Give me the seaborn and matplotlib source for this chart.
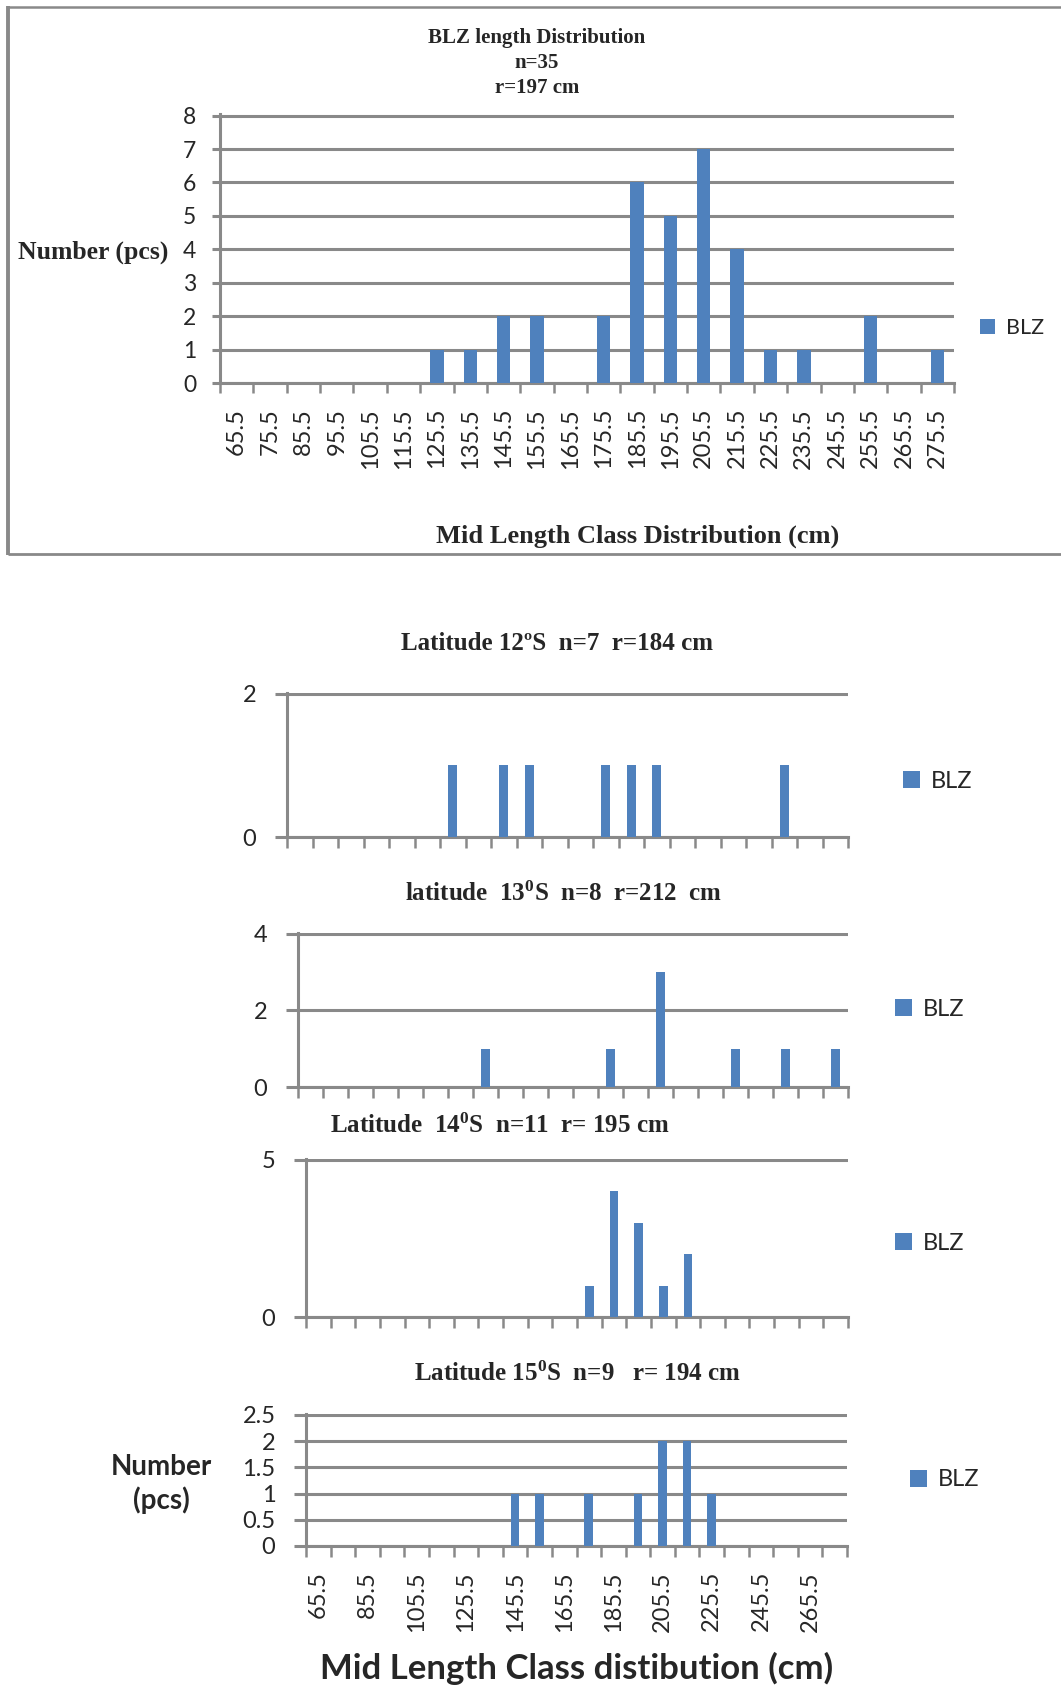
import numpy as np
import pandas as pd
import matplotlib
matplotlib.use("Agg")
import matplotlib.pyplot as plt
from matplotlib.lines import Line2D
from matplotlib.patches import Patch
import seaborn as sns

# Mid-length classes (cm) and BLZ counts per class
mid_length = ["65.5", "75.5", "85.5", "95.5", "105.5", "115.5", "125.5", "135.5",
              "145.5", "155.5", "165.5", "175.5", "185.5", "195.5", "205.5", "215.5",
              "225.5", "235.5", "245.5", "255.5", "265.5", "275.5"]
blz_all = [0, 0, 0, 0, 0, 0, 1, 1, 2, 2, 0, 2, 6, 5, 7, 4, 1, 1, 0, 2, 0, 1]
blz_lat12 = [0, 0, 0, 0, 0, 0, 1, 0, 1, 1, 0, 0, 1, 1, 1, 0, 0, 0, 0, 1, 0, 0]
blz_lat13 = [0, 0, 0, 0, 0, 0, 0, 1, 0, 0, 0, 0, 1, 0, 3, 0, 0, 1, 0, 1, 0, 1]
blz_lat14 = [0, 0, 0, 0, 0, 0, 0, 0, 0, 0, 0, 1, 4, 3, 1, 2, 0, 0, 0, 0, 0, 0]
blz_lat15 = [0, 0, 0, 0, 0, 0, 0, 0, 1, 1, 0, 1, 0, 1, 2, 2, 1, 0, 0, 0, 0, 0]

BLUE = "#4F81BD"
GRID = "#898989"
SANS = ["Lato", "DejaVu Sans"]
SERIF = ["Liberation Serif", "DejaVu Serif"]

sns.set_theme(style="white")
plt.rcParams["font.family"] = SANS
plt.rcParams["mathtext.fontset"] = "custom"
plt.rcParams["mathtext.rm"] = "Liberation Serif"
plt.rcParams["mathtext.bf"] = "Liberation Serif:bold"
plt.rcParams["mathtext.it"] = "Liberation Serif:italic"

W, H = 1061, 1686
fig = plt.figure(figsize=(W / 100, H / 100), dpi=100)
fig.patch.set_facecolor("white")


def fx(x):
    return x / W


def fy(y):
    return 1 - y / H


def px_rect(x0, y0, x1, y1):
    return [x0 / W, 1 - y1 / H, (x1 - x0) / W, (y1 - y0) / H]


def bar_panel(rect, counts, ymax, yticks, ylabels, bar_width,
              ytick_len, ytick_pad, xtick_len, label_size):
    ax = fig.add_axes(px_rect(*rect))
    df = pd.DataFrame({"mid": mid_length, "count": counts})
    sns.barplot(data=df, x="mid", y="count", order=mid_length, color=BLUE,
                saturation=1, width=bar_width, errorbar=None, ax=ax, zorder=3,
                linewidth=0, edgecolor=BLUE)
    ax.set_xlim(-0.5, len(mid_length) - 0.5)
    ax.set_ylim(0, ymax * 1.006)
    ax.set_yticks(yticks)
    ax.set_yticklabels(ylabels)
    ax.set_xlabel("")
    ax.set_ylabel("")
    ax.set_axisbelow(True)
    ax.yaxis.grid(True, color=GRID, lw=2.2)
    ax.xaxis.grid(False)
    for s in ("top", "right"):
        ax.spines[s].set_visible(False)
    for s in ("left", "bottom"):
        ax.spines[s].set_color(GRID)
        ax.spines[s].set_linewidth(2.2)
    ax.set_xticks(np.arange(-0.5, len(mid_length), 1.0), minor=True)
    ax.tick_params(axis="x", which="minor", length=xtick_len, width=1.8,
                   color=GRID, direction="out", bottom=True)
    ax.tick_params(axis="x", which="major", length=0)
    ax.tick_params(axis="y", which="major", length=ytick_len, width=2.2,
                   color=GRID, pad=ytick_pad, labelsize=label_size,
                   direction="out", left=True)
    return ax


def add_legend(ax, x_px, y_px, size):
    handle = Patch(facecolor=BLUE, edgecolor="none")
    ax.legend([handle], ["BLZ"], loc="center left",
              bbox_to_anchor=(fx(x_px), fy(y_px)),
              bbox_transform=fig.transFigure, frameon=False,
              prop={"family": SANS, "size": size},
              handlelength=0.7, handleheight=0.7, handletextpad=0.5,
              borderpad=0, borderaxespad=0)


# ---- Overall distribution -------------------------------------------------
box_kw = dict(color=GRID, transform=fig.transFigure, solid_capstyle="butt")
fig.add_artist(Line2D([fx(8), fx(1070)], [fy(7), fy(7)], lw=1.8, **box_kw))
fig.add_artist(Line2D([fx(8), fx(1070)], [fy(554), fy(554)], lw=2.0, **box_kw))
fig.add_artist(Line2D([fx(8), fx(8)], [fy(6), fy(555)], lw=2.8, **box_kw))

ax0 = bar_panel((220, 114, 954, 383), blz_all, 8, range(0, 9),
                [str(v) for v in range(0, 9)], 0.4,
                ytick_len=6, ytick_pad=11, xtick_len=7, label_size=16.5)
ax0.set_xticks(range(len(mid_length)))
ax0.set_xticklabels(mid_length, rotation=90)
ax0.tick_params(axis="x", which="major", pad=18, labelsize=17)
add_legend(ax0, 980, 328, 15.5)

title_kw = dict(ha="center", va="center", family=SERIF, weight="bold")
fig.text(fx(537), fy(38), "BLZ length Distribution", size=15, **title_kw)
fig.text(fx(537), fy(63), "n=35", size=15, **title_kw)
fig.text(fx(537), fy(88), "r=197 cm", size=15, **title_kw)
fig.text(fx(93), fy(252), "Number (pcs)", size=18.5, **title_kw)
fig.text(fx(638), fy(536), "Mid Length Class Distribution (cm)", size=19, **title_kw)

# ---- Distribution by latitude ---------------------------------------------
ax1 = bar_panel((287, 693, 848, 837), blz_lat12, 2, [0, 2], ["0", "2"], 0.35,
                ytick_len=9, ytick_pad=13, xtick_len=8, label_size=17)
ax1.tick_params(axis="x", labelbottom=False)
add_legend(ax1, 903, 781, 17)
fig.text(fx(557), fy(644), "Latitude 12ºS  n=7  r=184 cm", size=18, **title_kw)

ax2 = bar_panel((298, 933, 848, 1087), blz_lat13, 4, [0, 2, 4], ["0", "2", "4"], 0.35,
                ytick_len=9, ytick_pad=13, xtick_len=8, label_size=17)
ax2.tick_params(axis="x", labelbottom=False)
add_legend(ax2, 895, 1009, 17)
fig.text(fx(564), fy(894), r"latitude  13$^{\mathbf{0}}$S  n=8  r=212  cm",
         size=18, **title_kw)

ax3 = bar_panel((306, 1159, 848, 1317), blz_lat14, 5, [0, 5], ["0", "5"], 0.35,
                ytick_len=9, ytick_pad=13, xtick_len=8, label_size=17)
ax3.tick_params(axis="x", labelbottom=False)
add_legend(ax3, 895, 1243, 17)
fig.text(fx(500), fy(1126), r"Latitude  14$^{\mathbf{0}}$S  n=11  r= 195 cm",
         size=18, **title_kw)

ax4 = bar_panel((306, 1414, 847, 1546), blz_lat15, 2.5,
                [0, 0.5, 1, 1.5, 2, 2.5], ["0", "0.5", "1", "1.5", "2", "2.5"], 0.35,
                ytick_len=9, ytick_pad=13, xtick_len=8, label_size=17)
ax4.set_xticks(range(0, len(mid_length), 2))
ax4.set_xticklabels(mid_length[::2], rotation=90)
ax4.tick_params(axis="x", which="major", pad=18, labelsize=17)
add_legend(ax4, 910, 1480, 17)
fig.text(fx(578), fy(1374), r"Latitude 15$^{\mathbf{0}}$S  n=9   r= 194 cm",
         size=18, **title_kw)

fig.text(fx(161), fy(1484), "Number\n(pcs)", ha="center", va="center",
         family=SANS, weight="bold", size=20, linespacing=1.25)
fig.text(fx(577), fy(1668), "Mid Length Class distibution (cm)", ha="center",
         va="center", family=SANS, weight="bold", size=25)

fig.savefig("out.png", dpi=100, facecolor="white")
